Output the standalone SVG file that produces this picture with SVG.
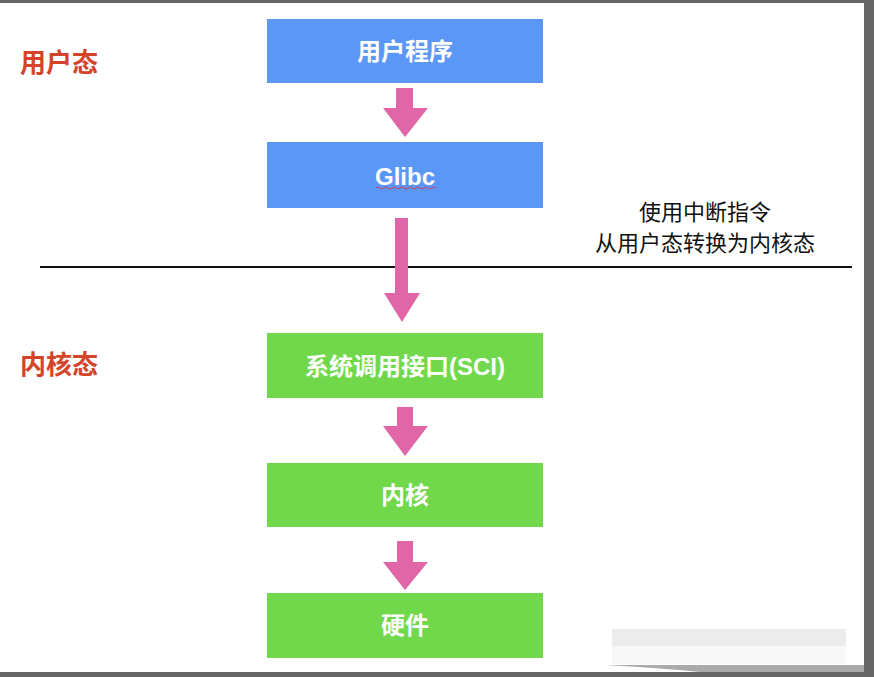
<svg xmlns="http://www.w3.org/2000/svg" width="874" height="677" viewBox="0 0 874 677">
<style>
.box{stroke:none}
.blue{fill:#5b97f7}
.green{fill:#72d84b}
.bt{font-family:"Liberation Sans","Noto Sans CJK SC",sans-serif;font-size:24px;font-weight:bold;fill:#ffffff;text-anchor:middle;dominant-baseline:central}
.lbl{font-family:"Noto Sans CJK SC",sans-serif;font-size:26px;font-weight:bold;fill:#d4432a}
.note{font-family:"Noto Sans CJK SC",sans-serif;font-size:22px;fill:#111;text-anchor:middle}
.arr{fill:#e066a8}
</style>
<rect x="0" y="0" width="874" height="677" fill="#ffffff"/>
<g id="frame">
<rect x="0" y="0" width="874" height="3" fill="#666"/>
<rect x="864" y="0" width="10" height="677" fill="#666"/>
<rect x="0" y="672" width="874" height="5" fill="#666"/>
<g id="watermark">
<rect x="612" y="629" width="234" height="17" fill="#ececec"/>
<rect x="612" y="646" width="234" height="18" fill="#f8f8f8"/>
<path d="M605 665 Q660 668 700 672 L864 672 L864 665 Z" fill="#aaaaaa"/>
</g>
</g>
<g id="label-user"><text class="lbl" x="20" y="72">用户态</text></g>
<g id="label-kernel"><text class="lbl" x="20" y="374">内核态</text></g>
<g id="note"><text class="note" x="705" y="220">使用中断指令</text><text class="note" x="705" y="251">从用户态转换为内核态</text></g>
<g id="divider"><line x1="40" y1="267" x2="852" y2="267" stroke="#111" stroke-width="2"/></g>
<g id="n1"><rect class="box blue" x="267" y="19" width="276" height="64"/><text class="bt" x="405" y="51">用户程序</text></g>
<g id="n2"><rect class="box blue" x="267" y="142" width="276" height="66"/><text class="bt" x="405" y="176">Glibc</text><path d="M376 188 q2 -2 4 0 t4 0 t4 0 t4 0 t4 0 t4 0 t4 0 t4 0 t4 0 t4 0 t4 0 t4 0 t4 0 t4 0 t4 0" fill="none" stroke="#d04060" stroke-width="1"/></g>
<g id="n3"><rect class="box green" x="267" y="333" width="276" height="65"/><text class="bt" x="405" y="366">系统调用接口(SCI)</text></g>
<g id="n4"><rect class="box green" x="267" y="463" width="276" height="64"/><text class="bt" x="405" y="495">内核</text></g>
<g id="n5"><rect class="box green" x="267" y="593" width="276" height="65"/><text class="bt" x="405" y="625">硬件</text></g>
<g id="connectors">
<polygon class="arr" points="396,88 413,88 413,108 428,108 405,137 383,108 396,108"/>
<polygon class="arr" points="395,218 408,218 408,293 420,293 402,322 384,293 395,293"/>
<polygon class="arr" points="397,407 413,407 413,426 428,426 405,456 383,426 397,426"/>
<polygon class="arr" points="397,541 413,541 413,562 428,562 405,590 383,562 397,562"/>
</g>
</svg>
